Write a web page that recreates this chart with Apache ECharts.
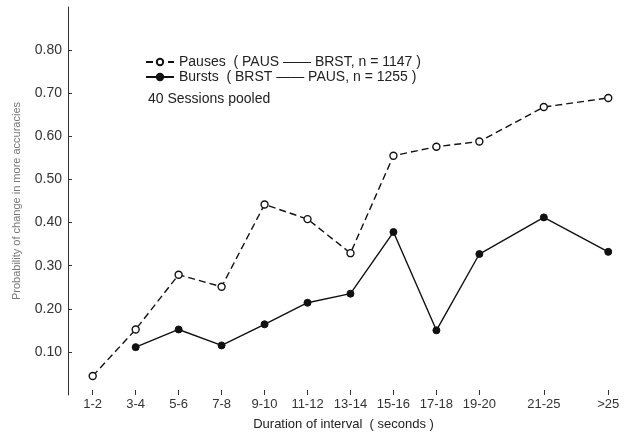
<!DOCTYPE html>
<html>
<head>
<meta charset="utf-8">
<script src="https://cdn.jsdelivr.net/npm/echarts@6/dist/echarts.min.js"></script>
<style>html,body{margin:0;padding:0;background:#fff}#c{width:624px;height:436px}</style>
</head>
<body>
<div id="c"></div>
<script>
var categories = ['1-2','3-4','5-6','7-8','9-10','11-12','13-14','15-16','17-18','19-20','21-25','>25'];
var catPositions = [1.5,3.5,5.5,7.5,9.5,11.5,13.5,15.5,17.5,19.5,22.5,25.5];
var pauses = [0.044,0.152,0.279,0.251,0.442,0.408,0.329,0.555,0.576,0.588,0.668,0.689];
var bursts = [null,0.111,0.152,0.115,0.164,0.214,0.235,0.378,0.150,0.327,0.412,0.332];
var yTicks = [0.1,0.2,0.3,0.4,0.5,0.6,0.7,0.8];
var legendLabels = {
  'Pauses': 'Pauses  ( PAUS \u2014\u2014 BRST, n = 1147 )',
  'Bursts': 'Bursts  ( BRST \u2014\u2014 PAUS, n = 1255 )'
};
var noteText = '40 Sessions pooled';

function pairs(vals){
  var out = [];
  for (var i = 0; i < vals.length; i++) if (vals[i] != null) out.push([catPositions[i], vals[i]]);
  return out;
}

var font = 'Liberation Sans, Arial, sans-serif';
var chart = echarts.init(document.getElementById('c'), null, {renderer:'canvas'});
chart.setOption({
  animation: false,
  backgroundColor: '#fff',
  textStyle: {fontFamily: font},
  grid: {left: 68, right: 5, top: 7, bottom: 38},
  legend: {
    orient: 'vertical', left: 140, top: 50, itemGap: 1,
    itemWidth: 28, itemHeight: 8,
    data: ['Pauses','Bursts'],
    formatter: function(n){ return legendLabels[n]; },
    textStyle: {fontSize: 14, color: '#222', fontFamily: font}
  },
  graphic: [{
    type: 'text', left: 148, top: 92,
    style: {text: noteText, fontSize: 14, fill: '#222', fontFamily: font}
  }],
  xAxis: {
    type: 'value', min: 0.35, max: 26,
    name: 'Duration of interval  ( seconds )',
    nameLocation: 'middle', nameGap: 23,
    nameTextStyle: {fontSize: 13, color: '#222', fontFamily: font},
    splitLine: {show: false},
    axisLine: {show: false},
    axisTick: {show: true, inside: true, length: 5, customValues: catPositions, lineStyle: {color: '#333'}},
    axisLabel: {
      customValues: catPositions, margin: 3, fontSize: 13, color: '#333',
      formatter: function(v){ var i = catPositions.indexOf(v); return i >= 0 ? categories[i] : ''; }
    }
  },
  yAxis: {
    type: 'value', min: 0, max: 0.9,
    name: 'Probability of change in more accuracies',
    nameLocation: 'middle', nameGap: 46,
    nameTextStyle: {fontSize: 11, color: '#777', fontFamily: font},
    splitLine: {show: false},
    axisLine: {show: true, lineStyle: {color: '#333', width: 1}},
    axisTick: {show: true, inside: true, length: 4, customValues: yTicks, lineStyle: {color: '#333'}},
    axisLabel: {
      customValues: yTicks, margin: 6, fontSize: 14, color: '#333',
      formatter: function(v){ return v.toFixed(2); }
    }
  },
  series: [
    {
      name: 'Pauses', type: 'line', data: pairs(pauses),
      symbol: 'circle', symbolSize: 7,
      lineStyle: {color: '#111', width: 1.4, type: [7,4]},
      itemStyle: {color: '#fff', borderColor: '#111', borderWidth: 1.4}
    },
    {
      name: 'Bursts', type: 'line', data: pairs(bursts),
      symbol: 'circle', symbolSize: 7,
      lineStyle: {color: '#111', width: 1.4},
      itemStyle: {color: '#111', borderColor: '#111', borderWidth: 1}
    }
  ]
});
</script>
</body>
</html>
